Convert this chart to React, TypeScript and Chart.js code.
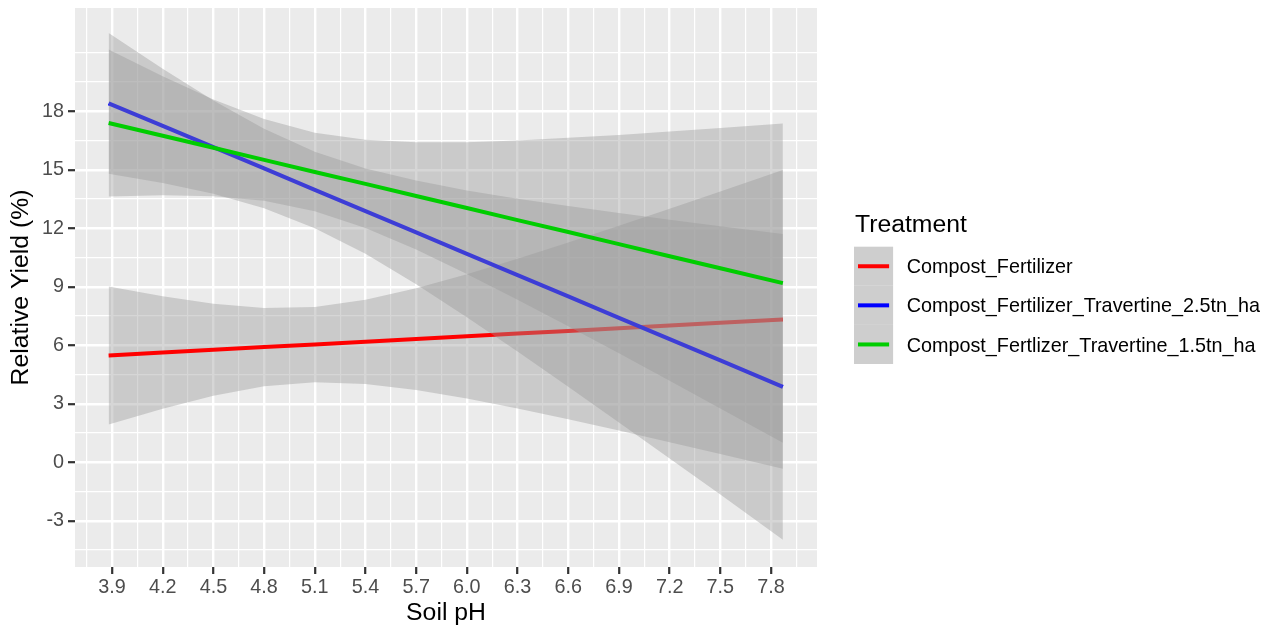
import React, { useEffect, useRef } from 'react';
import { Chart, registerables } from 'chart.js';

Chart.register(...registerables);

const FONT = '"Liberation Sans", Arial, Helvetica, sans-serif';

// ---- data ----
const phValues = [3.88, 4.2, 4.5, 4.8, 5.1, 5.4, 5.7, 6.0, 6.3, 6.6, 6.9, 7.2, 7.5, 7.87];

const seriesNames = [
  'Compost_Fertilizer',
  'Compost_Fertilizer_Travertine_2.5tn_ha',
  'Compost_Fertlizer_Travertine_1.5tn_ha',
];
const seriesColors = ['#FF0000', '#0000FF', '#00CD00'];

const cfFit = [5.48, 5.63, 5.77, 5.91, 6.04, 6.18, 6.32, 6.46, 6.6, 6.74, 6.88, 7.02, 7.16, 7.33];
const cfUpper = [9.02, 8.51, 8.13, 7.92, 7.97, 8.34, 8.93, 9.65, 10.44, 11.27, 12.13, 13.01, 13.89, 14.99];
const cfLower = [1.94, 2.75, 3.41, 3.9, 4.11, 4.02, 3.71, 3.27, 2.76, 2.21, 1.63, 1.03, 0.43, -0.33];

const t25Fit = [18.41, 17.25, 16.16, 15.07, 13.97, 12.88, 11.79, 10.69, 9.6, 8.51, 7.41, 6.32, 5.23, 3.87];
const t25Upper = [22.02, 20.18, 18.55, 17.11, 15.93, 15.07, 14.45, 13.94, 13.52, 13.14, 12.78, 12.44, 12.11, 11.71];
const t25Lower = [14.8, 14.32, 13.77, 13.03, 12.01, 10.69, 9.13, 7.44, 5.68, 3.88, 2.04, 0.2, -1.65, -3.97];

const t15Fit = [17.4, 16.75, 16.13, 15.51, 14.89, 14.28, 13.66, 13.04, 12.42, 11.81, 11.19, 10.57, 9.95, 9.19];
const t15Upper = [21.17, 19.8, 18.61, 17.61, 16.9, 16.54, 16.41, 16.42, 16.5, 16.64, 16.79, 16.96, 17.14, 17.38];
const t15Lower = [13.63, 13.7, 13.65, 13.41, 12.88, 12.02, 10.91, 9.66, 8.34, 6.98, 5.59, 4.18, 2.76, 1.0];

const xTickValues = [3.9, 4.2, 4.5, 4.8, 5.1, 5.4, 5.7, 6.0, 6.3, 6.6, 6.9, 7.2, 7.5, 7.8];
const xTickLabels = ['3.9', '4.2', '4.5', '4.8', '5.1', '5.4', '5.7', '6.0', '6.3', '6.6', '6.9', '7.2', '7.5', '7.8'];
const yTickValues = [-3, 0, 3, 6, 9, 12, 15, 18];
const yTickLabels = ['-3', '0', '3', '6', '9', '12', '15', '18'];

const xTitle = 'Soil pH';
const yTitle = 'Relative Yield (%)';
const legendTitle = 'Treatment';

// ---- helpers ----
const X_MIN = 3.681;
const X_MAX = 8.072;
const Y_MIN = -5.37;
const Y_MAX = 23.3;

function withMinors(majors: number[], lo: number, hi: number) {
  const step = majors[1] - majors[0];
  const ext = [majors[0] - step, ...majors, majors[majors.length - 1] + step];
  const all: number[] = [...majors];
  for (let i = 0; i < ext.length - 1; i++) all.push((ext[i] + ext[i + 1]) / 2);
  all.push(ext[0], ext[ext.length - 1]);
  return all.filter((v) => v >= lo && v <= hi).sort((a, b) => a - b);
}

function labelOf(v: number, vals: number[], labels: string[]) {
  const i = vals.findIndex((m) => Math.abs(m - v) < 1e-6);
  return i >= 0 ? labels[i] : '';
}
const isMajor = (v: number, vals: number[]) => vals.some((m) => Math.abs(m - v) < 1e-6);

const bandFill = 'rgba(153,153,153,0.4)';

const seriesData = [
  { fit: cfFit, upper: cfUpper, lower: cfLower },
  { fit: t25Fit, upper: t25Upper, lower: t25Lower },
  { fit: t15Fit, upper: t15Upper, lower: t15Lower },
];

const toPts = (ys: number[]) => phValues.map((x, i) => ({ x, y: ys[i] }));

const panelBg = {
  id: 'panelBg',
  beforeDraw(chart: any) {
    const { ctx, chartArea } = chart;
    ctx.save();
    ctx.fillStyle = '#EBEBEB';
    ctx.fillRect(chartArea.left, chartArea.top, chartArea.right - chartArea.left, chartArea.bottom - chartArea.top);
    ctx.restore();
  },
};

const ggLegend = {
  id: 'ggLegend',
  afterDraw(chart: any) {
    const ctx = chart.ctx as CanvasRenderingContext2D;
    const keyX = 854;
    const keyW = 39.1;
    const keyTop = 246.7;
    const keyH = 39.1;
    ctx.save();
    ctx.fillStyle = '#000000';
    ctx.font = `24.75px ${FONT}`;
    ctx.textBaseline = 'alphabetic';
    ctx.textAlign = 'left';
    ctx.fillText(legendTitle, 855, 232.3);
    seriesNames.forEach((name, i) => {
      const top = keyTop + i * keyH;
      ctx.fillStyle = '#CECECE';
      ctx.fillRect(keyX, top, keyW, keyH);
      const cy = top + keyH / 2;
      ctx.strokeStyle = seriesColors[i];
      ctx.lineWidth = 4;
      ctx.lineCap = 'butt';
      ctx.beginPath();
      ctx.moveTo(keyX + 4, cy);
      ctx.lineTo(keyX + keyW - 4, cy);
      ctx.stroke();
      ctx.fillStyle = '#000000';
      ctx.font = `19.8px ${FONT}`;
      ctx.fillText(name, 906.7, cy + 7.1);
    });
    ctx.restore();
  },
};

export default function App() {
  const ref = useRef<HTMLCanvasElement>(null);

  useEffect(() => {
    if (!ref.current) return;
    const datasets: any[] = [];
    seriesData.forEach((s, i) => {
      const base = 9 - 3 * i;
      datasets.push({
        label: seriesNames[i] + ' upper',
        data: toPts(s.upper),
        borderWidth: 0,
        borderColor: 'rgba(0,0,0,0)',
        backgroundColor: bandFill,
        pointRadius: 0,
        fill: '+1',
        order: base,
      });
      datasets.push({
        label: seriesNames[i] + ' lower',
        data: toPts(s.lower),
        borderWidth: 0,
        borderColor: 'rgba(0,0,0,0)',
        backgroundColor: 'rgba(0,0,0,0)',
        pointRadius: 0,
        fill: false,
        order: base,
      });
      datasets.push({
        label: seriesNames[i],
        data: toPts(s.fit),
        borderColor: seriesColors[i],
        borderWidth: 4,
        pointRadius: 0,
        fill: false,
        order: base - 1,
      });
    });

    const xAll = withMinors(xTickValues, X_MIN, X_MAX);
    const yAll = withMinors(yTickValues, Y_MIN, Y_MAX);

    const chart = new Chart(ref.current, {
      type: 'line',
      data: { datasets },
      plugins: [panelBg, ggLegend],
      options: {
        animation: false,
        responsive: false,
        events: [],
        layout: { padding: { left: 0, top: 8, right: 459, bottom: 0 } },
        plugins: {
          legend: { display: false },
          tooltip: { enabled: false },
          filler: { propagate: false },
        },
        scales: {
          x: {
            type: 'linear',
            min: X_MIN,
            max: X_MAX,
            bounds: 'data',
            afterBuildTicks: (scale: any) => {
              scale.ticks = xAll.map((v) => ({ value: v }));
            },
            afterFit: (scale: any) => {
              scale.height = 61;
              scale.paddingLeft = 0;
              scale.paddingRight = 0;
              scale.paddingTop = 0;
              scale.paddingBottom = 0;
            },
            ticks: {
              autoSkip: false,
              maxRotation: 0,
              minRotation: 0,
              padding: 1.5,
              color: '#4D4D4D',
              font: { family: FONT, size: 19.8 },
              callback: (v: any) => labelOf(Number(v), xTickValues, xTickLabels),
            },
            grid: {
              color: '#FFFFFF',
              lineWidth: (c: any) => (c.tick && isMajor(c.tick.value, xTickValues) ? 2.4 : 1.2),
              drawTicks: true,
              tickLength: 7,
              tickWidth: 2.2,
              tickColor: (c: any) => (c.tick && isMajor(c.tick.value, xTickValues) ? '#333333' : 'rgba(0,0,0,0)'),
            },
            border: { display: false },
            title: {
              display: true,
              text: xTitle,
              color: '#000000',
              font: { family: FONT, size: 24.75 },
              padding: { top: 0, bottom: 0 },
            },
          },
          y: {
            type: 'linear',
            min: Y_MIN,
            max: Y_MAX,
            bounds: 'data',
            afterBuildTicks: (scale: any) => {
              scale.ticks = yAll.map((v) => ({ value: v }));
            },
            afterFit: (scale: any) => {
              scale.width = 75;
              scale.paddingLeft = 0;
              scale.paddingRight = 0;
              scale.paddingTop = 0;
              scale.paddingBottom = 0;
            },
            ticks: {
              autoSkip: false,
              padding: 4,
              color: '#4D4D4D',
              font: { family: FONT, size: 19.8 },
              callback: (v: any) => labelOf(Number(v), yTickValues, yTickLabels),
            },
            grid: {
              color: '#FFFFFF',
              lineWidth: (c: any) => (c.tick && isMajor(c.tick.value, yTickValues) ? 2.4 : 1.2),
              drawTicks: true,
              tickLength: 7,
              tickWidth: 2.2,
              tickColor: (c: any) => (c.tick && isMajor(c.tick.value, yTickValues) ? '#333333' : 'rgba(0,0,0,0)'),
            },
            border: { display: false },
            title: {
              display: true,
              text: yTitle,
              color: '#000000',
              font: { family: FONT, size: 24.75 },
              padding: { top: 6.3, bottom: 0 },
            },
          },
        },
      } as any,
    });
    return () => chart.destroy();
  }, []);

  return (
    <div style={{ position: 'absolute', left: 0, top: 0, width: 1276, height: 628 }}>
      <canvas ref={ref} width={1276} height={628} style={{ display: 'block', width: 1276, height: 628 }} />
    </div>
  );
}
